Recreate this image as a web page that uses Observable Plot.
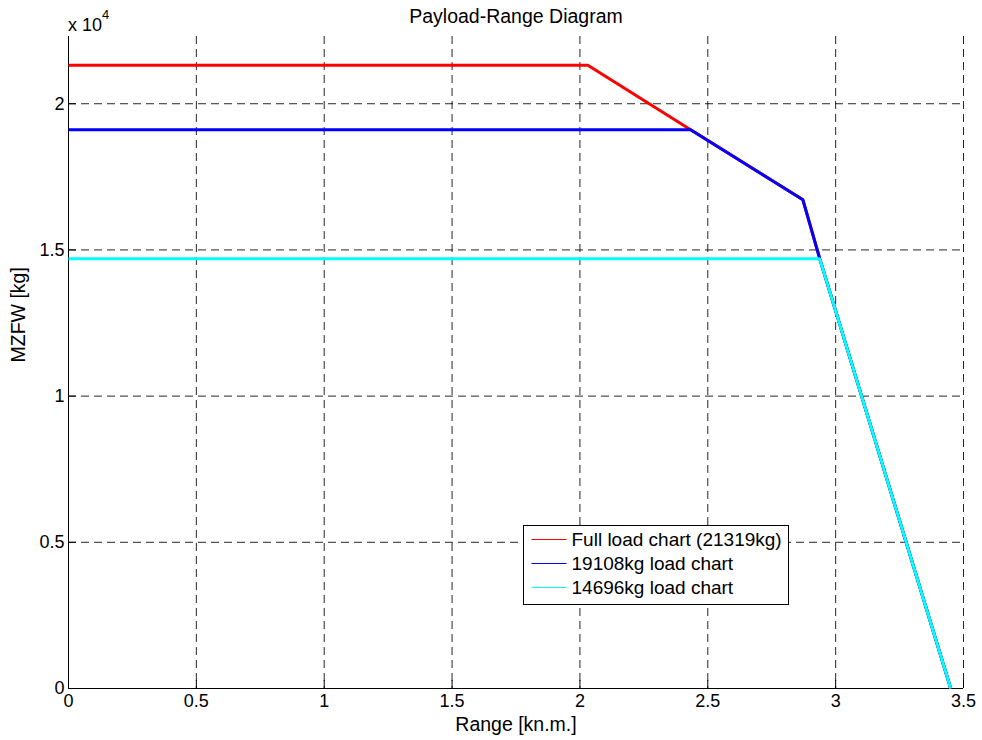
<!DOCTYPE html>
<html>
<head>
<meta charset="utf-8">
<script src="https://cdn.jsdelivr.net/npm/d3@7"></script>
<script src="https://cdn.jsdelivr.net/npm/@observablehq/plot@0.6"></script>
<style>
  html, body { margin: 0; padding: 0; background: #fff; }
  #chart svg { display: block; }
</style>
</head>
<body>
<div id="chart"></div>
<script>
// Payload-range envelopes, one polyline per take-off load case
const seriesNames = ["Full load chart (21319kg)", "19108kg load chart", "14696kg load chart"];
const seriesColors = ["#ff0000", "#0000ff", "#00ffff"];

const rangeFull = [0, 2.031, 2.433, 2.872, 2.938, 3.45];
const mzfwFull  = [21319, 21319, 19108, 16714, 14696, 0];

const range19108 = [0, 2.433, 2.872, 2.938, 3.45];
const mzfw19108  = [19108, 19108, 16714, 14696, 0];

const range14696 = [0, 2.938, 3.45];
const mzfw14696  = [14696, 14696, 0];

const xTicks = [0, 0.5, 1, 1.5, 2, 2.5, 3, 3.5];
const yTicks = [0, 5000, 10000, 15000, 20000];

const titleText = "Payload-Range Diagram";
const xLabel = "Range [kn.m.]";
const yLabel = "MZFW [kg]";

const toRows = (xs, ys, name) => xs.map((x, i) => ({range: x, mzfw: ys[i], series: name}));
const rows = [
  ...toRows(rangeFull, mzfwFull, seriesNames[0]),
  ...toRows(range19108, mzfw19108, seriesNames[1]),
  ...toRows(range14696, mzfw14696, seriesNames[2])
];

const font = "'Liberation Sans', Arial, Helvetica, sans-serif";
const gridStyle = {stroke: "#000", strokeOpacity: 0.85, strokeDasharray: "8,5", strokeWidth: 1};

const chart = Plot.plot({
  width: 982,
  height: 740,
  marginLeft: 68,
  marginRight: 19,
  marginTop: 36,
  marginBottom: 52,
  style: {fontFamily: font, fontSize: "18px", color: "#000", background: "#fff"},
  x: {domain: [0, 3.5]},
  y: {domain: [0, 22300]},
  color: {domain: seriesNames, range: seriesColors},
  marks: [
    Plot.gridX(xTicks, gridStyle),
    Plot.gridY(yTicks, gridStyle),
    Plot.ruleX([0], {stroke: "#000"}),
    Plot.ruleY([0], {stroke: "#000"}),
    Plot.axisX(xTicks, {
      tickSize: -8, tickPadding: 14, fontSize: 18, label: null,
      tickFormat: d => String(d)
    }),
    Plot.axisY(yTicks, {
      tickSize: -8, tickPadding: 12, fontSize: 18, label: null,
      tickFormat: d => String(d / 1e4)
    }),
    Plot.line(rows, {
      x: "range", y: "mzfw", z: "series", stroke: "series",
      strokeWidth: 3, strokeLinejoin: "miter", strokeLinecap: "butt"
    }),
    Plot.text([titleText], {
      text: d => d, frameAnchor: "top", dy: -20, fontSize: 19.5, lineAnchor: "middle"
    }),
    Plot.text([xLabel], {
      text: d => d, frameAnchor: "bottom", dy: 36, fontSize: 19.5, lineAnchor: "middle"
    }),
    Plot.text([yLabel], {
      text: d => d, frameAnchor: "left", dx: -50, rotate: -90, fontSize: 19.5, lineAnchor: "middle"
    })
  ]
});

document.getElementById("chart").appendChild(chart);

// Axis exponent and legend drawn in pixel space on top of the frame
const svg = d3.select(chart);
const exp = svg.append("text")
  .attr("x", 68).attr("y", 31).attr("text-anchor", "start")
  .attr("font-family", font).attr("font-size", 18).attr("fill", "#000");
exp.append("tspan").text("x 10");
exp.append("tspan").attr("dy", -12).attr("font-size", 13).text("4");

const legend = svg.append("g").attr("transform", "translate(523.5,525.5)");
legend.append("rect")
  .attr("width", 265).attr("height", 79)
  .style("fill", "#fff").style("stroke", "#000").style("stroke-width", 1);
seriesNames.forEach((name, i) => {
  const cy = 14 + i * 24;
  legend.append("line")
    .attr("x1", 8).attr("x2", 43).attr("y1", cy).attr("y2", cy)
    .style("stroke", seriesColors[i]).style("stroke-width", 1.2);
  legend.append("text")
    .attr("x", 48).attr("y", cy).attr("dy", "0.35em").attr("text-anchor", "start")
    .attr("font-family", font).attr("font-size", 19).attr("fill", "#000")
    .text(name);
});
</script>
</body>
</html>
